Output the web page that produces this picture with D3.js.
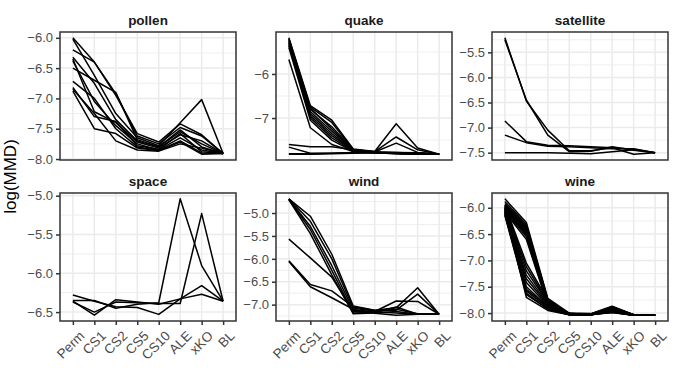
<!DOCTYPE html>
<html>
<head>
<meta charset="utf-8">
<script src="https://cdn.jsdelivr.net/npm/d3@7"></script>
<style>
  body { margin: 0; background: #fff; }
  svg text { font-family: "Liberation Sans", Arial, sans-serif; }
</style>
</head>
<body>
<div id="chart"></div>
<script>
// x categories (shared by all panels)
var methods = ['Perm', 'CS1', 'CS2', 'CS5', 'CS10', 'ALE', 'xKO', 'BL'];

// panel order
var datasets = ['pollen', 'quake', 'satellite', 'space', 'wind', 'wine'];

// log(MMD) per run, one row per line, values in methods order
var pollen = [
    [-6.00, -6.40, -6.95, -7.58, -7.72, -7.42, -7.60, -7.91],
    [-6.02, -6.62, -7.25, -7.65, -7.78, -7.40, -7.02, -7.91],
    [-6.20, -6.40, -6.92, -7.62, -7.75, -7.48, -7.62, -7.91],
    [-6.32, -6.75, -7.35, -7.70, -7.80, -7.55, -7.75, -7.91],
    [-6.35, -7.22, -7.40, -7.72, -7.82, -7.60, -7.70, -7.91],
    [-6.38, -7.05, -7.45, -7.75, -7.85, -7.65, -7.85, -7.91],
    [-6.50, -6.70, -6.90, -7.68, -7.80, -7.52, -7.80, -7.91],
    [-6.72, -7.00, -7.50, -7.80, -7.86, -7.70, -7.90, -7.91],
    [-6.82, -7.30, -7.38, -7.78, -7.84, -7.58, -7.88, -7.91],
    [-6.88, -7.50, -7.58, -7.82, -7.86, -7.72, -7.92, -7.91],
    [-6.85, -7.25, -7.70, -7.85, -7.87, -7.75, -7.82, -7.91]
];

var quake = [
    [-5.18, -6.72, -7.05, -7.70, -7.76, -7.13, -7.68, -7.82],
    [-5.20, -6.75, -7.10, -7.72, -7.76, -7.43, -7.72, -7.82],
    [-5.22, -6.80, -7.20, -7.72, -7.77, -7.57, -7.78, -7.82],
    [-5.25, -6.85, -7.30, -7.73, -7.77, -7.78, -7.80, -7.82],
    [-5.28, -6.90, -7.35, -7.74, -7.78, -7.80, -7.81, -7.82],
    [-5.30, -6.95, -7.40, -7.74, -7.78, -7.79, -7.80, -7.82],
    [-5.33, -7.00, -7.45, -7.75, -7.78, -7.80, -7.82, -7.82],
    [-5.36, -6.78, -7.25, -7.73, -7.77, -7.78, -7.79, -7.82],
    [-5.40, -7.05, -7.50, -7.76, -7.78, -7.81, -7.81, -7.82],
    [-5.67, -7.22, -7.60, -7.76, -7.78, -7.80, -7.80, -7.82],
    [-7.60, -7.65, -7.65, -7.72, -7.77, -7.80, -7.81, -7.82],
    [-7.66, -7.80, -7.80, -7.78, -7.78, -7.80, -7.81, -7.82],
    [-7.81, -7.81, -7.80, -7.79, -7.78, -7.80, -7.82, -7.82],
    [-7.82, -7.82, -7.81, -7.80, -7.79, -7.81, -7.82, -7.82]
];

var satellite = [
    [-5.21, -6.47, -7.05, -7.46, -7.46, -7.40, -7.53, -7.50],
    [-5.25, -6.45, -7.15, -7.48, -7.47, -7.38, -7.45, -7.50],
    [-6.87, -7.28, -7.35, -7.36, -7.38, -7.40, -7.43, -7.50],
    [-7.15, -7.30, -7.37, -7.38, -7.40, -7.42, -7.42, -7.50],
    [-7.50, -7.50, -7.50, -7.51, -7.52, -7.48, -7.44, -7.50]
];

var space = [
    [-6.35, -6.35, -6.45, -6.40, -6.38, -5.04, -5.90, -6.36],
    [-6.37, -6.50, -6.37, -6.38, -6.39, -6.39, -5.23, -6.36],
    [-6.28, -6.36, -6.43, -6.44, -6.53, -6.33, -6.16, -6.36],
    [-6.36, -6.54, -6.34, -6.37, -6.40, -6.33, -6.27, -6.36]
];

var wind = [
    [-4.69, -5.07, -5.90, -7.03, -7.12, -7.07, -6.63, -7.21],
    [-4.69, -5.18, -6.00, -7.08, -7.14, -7.12, -6.77, -7.21],
    [-4.70, -5.29, -6.15, -7.12, -7.15, -6.92, -6.93, -7.21],
    [-4.70, -5.36, -6.25, -7.18, -7.17, -7.05, -7.21, -7.21],
    [-4.71, -5.45, -6.35, -7.20, -7.18, -7.15, -7.21, -7.21],
    [-5.57, -5.98, -6.40, -7.15, -7.16, -7.18, -7.21, -7.21],
    [-6.04, -6.56, -6.70, -7.05, -7.13, -7.10, -7.20, -7.21],
    [-6.06, -6.61, -6.85, -7.10, -7.19, -7.23, -7.21, -7.21]
];

var wine = [
    [-5.83, -6.28, -7.72, -8.00, -8.01, -7.87, -8.03, -8.04],
    [-5.88, -6.32, -7.74, -8.01, -8.02, -7.89, -8.03, -8.04],
    [-5.92, -6.35, -7.75, -8.01, -8.02, -7.90, -8.04, -8.04],
    [-5.95, -6.38, -7.76, -8.02, -8.02, -7.92, -8.03, -8.04],
    [-5.98, -6.42, -7.78, -8.02, -8.03, -7.94, -8.04, -8.04],
    [-6.00, -6.45, -7.80, -8.02, -8.02, -7.96, -8.04, -8.04],
    [-6.02, -6.48, -7.78, -8.01, -8.02, -7.88, -8.03, -8.04],
    [-6.04, -6.50, -7.82, -8.03, -8.03, -7.93, -8.04, -8.04],
    [-6.06, -6.55, -7.84, -8.02, -8.02, -7.97, -8.04, -8.04],
    [-6.08, -6.60, -7.85, -8.03, -8.03, -7.99, -8.04, -8.04],
    [-5.96, -6.40, -7.77, -8.01, -8.02, -7.91, -8.03, -8.04],
    [-6.01, -6.52, -7.81, -8.02, -8.02, -7.95, -8.04, -8.04],
    [-5.95, -7.05, -7.75, -8.01, -8.02, -7.90, -8.03, -8.04],
    [-5.98, -7.12, -7.78, -8.02, -8.02, -7.92, -8.04, -8.04],
    [-6.00, -7.20, -7.80, -8.02, -8.03, -7.94, -8.04, -8.04],
    [-6.03, -7.28, -7.82, -8.02, -8.02, -7.93, -8.03, -8.04],
    [-6.05, -7.35, -7.84, -8.03, -8.03, -7.96, -8.04, -8.04],
    [-6.07, -7.42, -7.86, -8.02, -8.02, -7.95, -8.04, -8.04],
    [-6.10, -7.50, -7.88, -8.02, -8.03, -7.97, -8.04, -8.04],
    [-6.12, -7.58, -7.90, -8.03, -8.03, -7.98, -8.04, -8.04],
    [-6.15, -7.65, -7.92, -8.03, -8.02, -7.99, -8.04, -8.04],
    [-6.02, -7.70, -7.95, -8.03, -8.03, -7.97, -8.04, -8.04],
    [-6.08, -7.55, -7.87, -8.02, -8.02, -7.96, -8.04, -8.04],
    [-6.13, -7.62, -7.93, -8.03, -8.03, -7.98, -8.04, -8.04]
];

// y breaks per panel
var pollenTicks = [-8.0, -7.5, -7.0, -6.5, -6.0];
var quakeTicks = [-7, -6];
var satelliteTicks = [-7.5, -7.0, -6.5, -6.0, -5.5];
var spaceTicks = [-6.5, -6.0, -5.5, -5.0];
var windTicks = [-7.0, -6.5, -6.0, -5.5, -5.0];
var wineTicks = [-8.0, -7.5, -7.0, -6.5, -6.0];

var panelData = { pollen: pollen, quake: quake, satellite: satellite, space: space, wind: wind, wine: wine };
var panelTicks = { pollen: pollenTicks, quake: quakeTicks, satellite: satelliteTicks, space: spaceTicks, wind: windTicks, wine: wineTicks };

var width = 676,
    height = 387,
    panelW = 176,
    panelH = 128,
    colX = [60, 276, 492],
    rowY = [32, 193],
    lw = 1.5;

var svg = d3.select('#chart').append('svg')
    .attr('width', width)
    .attr('height', height);

var xScale = d3.scalePoint()
    .domain(methods)
    .range([0, panelW])
    .padding(0.6);

datasets.forEach(function(name, i) {
    var rows = panelData[name];
    var ticks = panelTicks[name];
    var col = i % 3, row = Math.floor(i / 3);
    var g = svg.append('g')
        .attr('transform', 'translate(' + colX[col] + ',' + rowY[row] + ')');

    // free y scale with 5% expansion like ggplot
    var all = d3.merge(rows);
    var ext = d3.extent(all);
    var pad = (ext[1] - ext[0]) * 0.05;
    var yScale = d3.scaleLinear()
        .domain([ext[0] - pad, ext[1] + pad])
        .range([panelH, 0]);

    // minor breaks halfway between majors
    var step = ticks[1] - ticks[0];
    var minor = [];
    for (var k = -1; k < ticks.length; k++) {
        var m = ticks[0] + (k + 0.5) * step;
        if (m >= yScale.domain()[0] && m <= yScale.domain()[1]) minor.push(m);
    }

    g.append('rect')
        .attr('width', panelW).attr('height', panelH)
        .attr('fill', '#fff');

    g.selectAll('.minor').data(minor).enter().append('line')
        .attr('x1', 0).attr('x2', panelW)
        .attr('y1', yScale).attr('y2', yScale)
        .attr('stroke', '#ebebeb').attr('stroke-width', 0.8);

    g.selectAll('.hmajor').data(ticks).enter().append('line')
        .attr('x1', 0).attr('x2', panelW)
        .attr('y1', yScale).attr('y2', yScale)
        .attr('stroke', '#ebebeb').attr('stroke-width', lw);

    g.selectAll('.vmajor').data(methods).enter().append('line')
        .attr('x1', xScale).attr('x2', xScale)
        .attr('y1', 0).attr('y2', panelH)
        .attr('stroke', '#ebebeb').attr('stroke-width', lw);

    var line = d3.line()
        .x(function(d, j) { return xScale(methods[j]); })
        .y(function(d) { return yScale(d); });

    g.selectAll('.run').data(rows).enter().append('path')
        .attr('d', line)
        .attr('fill', 'none')
        .attr('stroke', '#000')
        .attr('stroke-width', lw)
        .attr('stroke-linejoin', 'round');

    g.append('rect')
        .attr('width', panelW).attr('height', panelH)
        .attr('fill', 'none')
        .attr('stroke', '#333').attr('stroke-width', lw);

    // y axis
    var fmt = ticks.every(function(t) { return t === Math.round(t); }) ? d3.format('d') : d3.format('.1f');
    var yAxis = d3.axisLeft(yScale).tickValues(ticks).tickFormat(fmt).tickSize(4).tickPadding(3);
    var ya = g.append('g').call(yAxis);
    ya.select('.domain').remove();
    ya.selectAll('line').attr('stroke', '#333').attr('stroke-width', lw);
    ya.selectAll('text').attr('fill', '#4d4d4d').style('font-size', '13px');

    // x axis only on bottom row
    if (row === 1) {
        var xAxis = d3.axisBottom(xScale).tickSize(4).tickPadding(2);
        var xa = g.append('g').attr('transform', 'translate(0,' + panelH + ')').call(xAxis);
        xa.select('.domain').remove();
        xa.selectAll('line').attr('stroke', '#333').attr('stroke-width', lw);
        xa.selectAll('text')
            .attr('fill', '#4d4d4d').style('font-size', '13.5px')
            .style('text-anchor', 'end')
            .attr('dx', '-0.2em')
            .attr('dy', '1.0em')
            .attr('transform', 'rotate(-45)');
    }

    // strip title
    g.append('text')
        .attr('x', panelW / 2).attr('y', -7)
        .attr('text-anchor', 'middle')
        .attr('fill', '#1a1a1a')
        .style('font-size', '13.5px').style('font-weight', 'bold')
        .text(name);
});

svg.append('text')
    .attr('transform', 'translate(16,' + ((rowY[0] + rowY[1] + panelH) / 2) + ') rotate(-90)')
    .attr('text-anchor', 'middle')
    .style('font-size', '17px')
    .text('log(MMD)');
</script>
</body>
</html>
